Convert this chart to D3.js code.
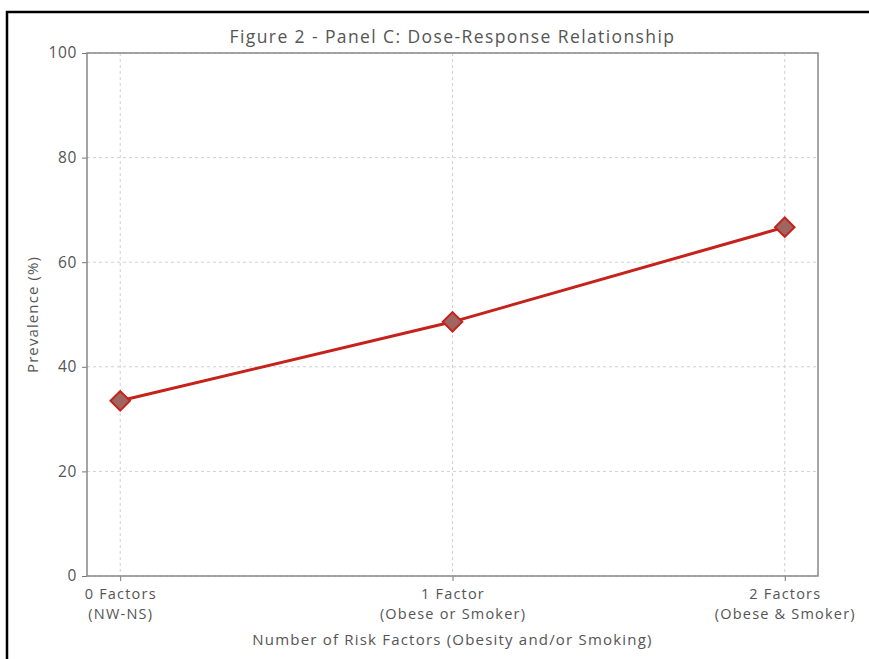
<!DOCTYPE html>
<html><head><meta charset="utf-8">
<script src="https://cdn.jsdelivr.net/npm/d3@7"></script>
<style>
html,body{margin:0;padding:0;background:#fff;}
svg{display:block;}
text{font-family:"Open Sans",Roboto,sans-serif;fill:#555;}
</style></head>
<body>
<script>
const categories = [["0 Factors","(NW-NS)"],["1 Factor","(Obese or Smoker)"],["2 Factors","(Obese & Smoker)"]];
const xValues = [0, 1, 2];
const prevalence = [33.5, 48.6, 66.7];
const yTicks = [0, 20, 40, 60, 80, 100];
const title = "Figure 2 - Panel C: Dose-Response Relationship";
const xLabel = "Number of Risk Factors (Obesity and/or Smoking)";
const yLabel = "Prevalence (%)";

const W = 869, H = 659;
const svg = d3.select("body").append("svg").attr("width", W).attr("height", H);

// outer frame
svg.append("rect").attr("x", 7).attr("y", 12).attr("width", W).attr("height", H)
  .attr("fill", "#fff").attr("stroke", "#000").attr("stroke-width", 2.5);

const L = 87, R = 818, T = 53, B = 576;
const x = d3.scaleLinear().domain([-0.1, 2.1]).range([L, R]);
const y = d3.scaleLinear().domain([0, 100]).range([B, T]);

// grid
const g = svg.append("g");
g.selectAll(".gy").data(yTicks).join("line")
  .attr("x1", L).attr("x2", R).attr("y1", d => y(d)).attr("y2", d => y(d))
  .attr("stroke", "#d0d0d0").attr("stroke-width", 1).attr("stroke-dasharray", "3,3");
g.selectAll(".gx").data(xValues).join("line")
  .attr("x1", d => x(d)).attr("x2", d => x(d)).attr("y1", T).attr("y2", B)
  .attr("stroke", "#d0d0d0").attr("stroke-width", 1).attr("stroke-dasharray", "3,3");

// axes
const yAxis = d3.axisLeft(y).tickValues(yTicks).tickSize(5).tickPadding(5);
const ya = svg.append("g").attr("transform", `translate(${L},0)`).call(yAxis);
ya.select(".domain").remove();
ya.selectAll("line").attr("stroke", "#777");
ya.selectAll("text").attr("font-size", 15.5).attr("fill", "#555")
  .attr("letter-spacing", 0.6)
  .style("font-family", '"Open Sans",Roboto,sans-serif');

const xAxis = d3.axisBottom(x).tickValues(xValues).tickSize(5).tickFormat(() => "");
const xa = svg.append("g").attr("transform", `translate(0,${B})`).call(xAxis);
xa.select(".domain").remove();
xa.selectAll("line").attr("stroke", "#777");
xa.selectAll(".tick").each(function(d, i) {
  const t = d3.select(this).append("text").attr("text-anchor", "middle")
    .attr("font-size", 14.5).attr("letter-spacing", 1.2).attr("fill", "#555");
  t.append("tspan").attr("x", 0).attr("y", 23).text(categories[i][0]);
  t.append("tspan").attr("x", 0).attr("y", 43).text(categories[i][1]);
});

// spines
svg.append("rect").attr("x", L).attr("y", T).attr("width", R - L).attr("height", B - T)
  .attr("fill", "none").attr("stroke", "#888").attr("stroke-width", 1.5);

// line
const line = d3.line().x((d, i) => x(xValues[i])).y(d => y(d));
svg.append("path").datum(prevalence).attr("d", line)
  .attr("fill", "none").attr("stroke", "#c4221b").attr("stroke-width", 3);

// markers
const sym = d3.symbol().type(d3.symbolSquare).size(190);
svg.selectAll(".pt").data(prevalence).join("path")
  .attr("d", sym)
  .attr("transform", (d, i) => `translate(${x(xValues[i])},${y(d)}) rotate(45)`)
  .attr("fill", "#9e6561").attr("stroke", "#c4221b").attr("stroke-width", 2);

// title & labels
svg.append("text").attr("x", (L + R) / 2).attr("y", 43).attr("text-anchor", "middle")
  .attr("font-size", 17.5).attr("letter-spacing", 1.4).attr("fill", "#444").text(title);
svg.append("text").attr("x", (L + R) / 2).attr("y", 645).attr("text-anchor", "middle")
  .attr("font-size", 15).attr("letter-spacing", 1.2).attr("fill", "#555").text(xLabel);
svg.append("text").attr("transform", `translate(38,${(T + B) / 2}) rotate(-90)`)
  .attr("text-anchor", "middle").attr("font-size", 15).attr("letter-spacing", 1.1)
  .attr("fill", "#555").text(yLabel);
</script>
</body></html>
